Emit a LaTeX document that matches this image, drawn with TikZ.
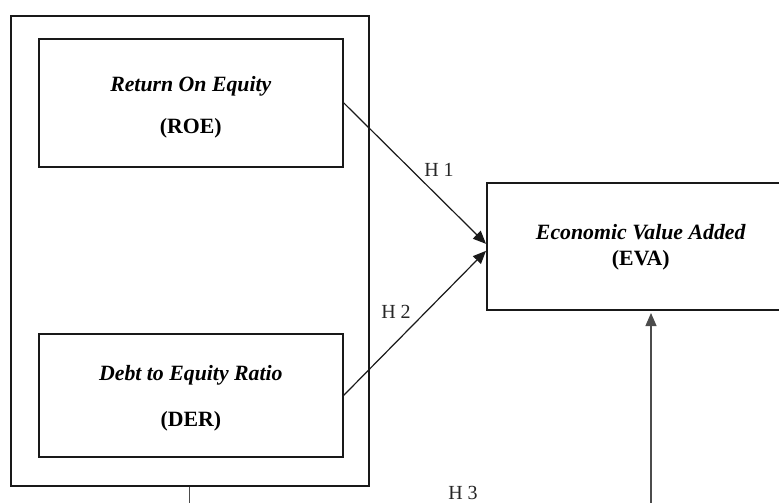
\documentclass[tikz,border=0pt]{standalone}
\usepackage{fontspec}
\setmainfont{Liberation Serif}
\usetikzlibrary{arrows.meta}
\begin{document}
\begin{tikzpicture}[x=1pt,y=-1pt,
  box/.style={draw=black!90, line width=1.7pt, inner sep=0pt, anchor=north west},
  btext/.style={inner sep=0pt, align=center, font=\fontsize{21.8}{26}\selectfont},
  conn/.style={line width=1.2pt, draw=black!90, -{Triangle[length=13pt,width=11pt]}},
  hlab/.style={font=\fontsize{20}{24}\selectfont, inner sep=0pt, text=black!85}]
\clip (0,0) rectangle (779,503);
\node[box, minimum width=358pt, minimum height=470pt] (outer) at (10,15) {};
\node[box, minimum width=304pt, minimum height=128pt] (roe) at (38,38) {};
\node[btext, yshift=-4pt] (roet) at (roe.center)
  {\textbf{\textit{Return On Equity}}\\[16pt]\textbf{(ROE)}};
\node[box, minimum width=304pt, minimum height=123pt] (der) at (38,333) {};
\node[btext, yshift=-3pt] (dert) at (der.center)
  {\textbf{\textit{Debt to Equity Ratio}}\\[20pt]\textbf{(DER)}};
\node[box, minimum width=308pt, minimum height=127pt] (eva) at (486,182) {};
\node[btext, yshift=-1pt] (evat) at (eva.center)
  {\textbf{\textit{Economic Value Added}}\\\textbf{(EVA)}};
\node[hlab] (h1) at (439,170) {H 1};
\node[hlab] (h2) at (396,312) {H 2};
\node[hlab] (h3) at (463,493) {H 3};
\coordinate (evain) at (651,309);
\coordinate (bot) at (651,520);
\draw[conn] (roe.east) -- ([yshift=2.5pt]eva.west);
\draw[conn] (der.east) -- ([yshift=-4.5pt]eva.west);
\draw[conn, draw=black!70, shorten >=4pt] (outer.south) |- (bot) -- (evain);
\end{tikzpicture}
\end{document}
